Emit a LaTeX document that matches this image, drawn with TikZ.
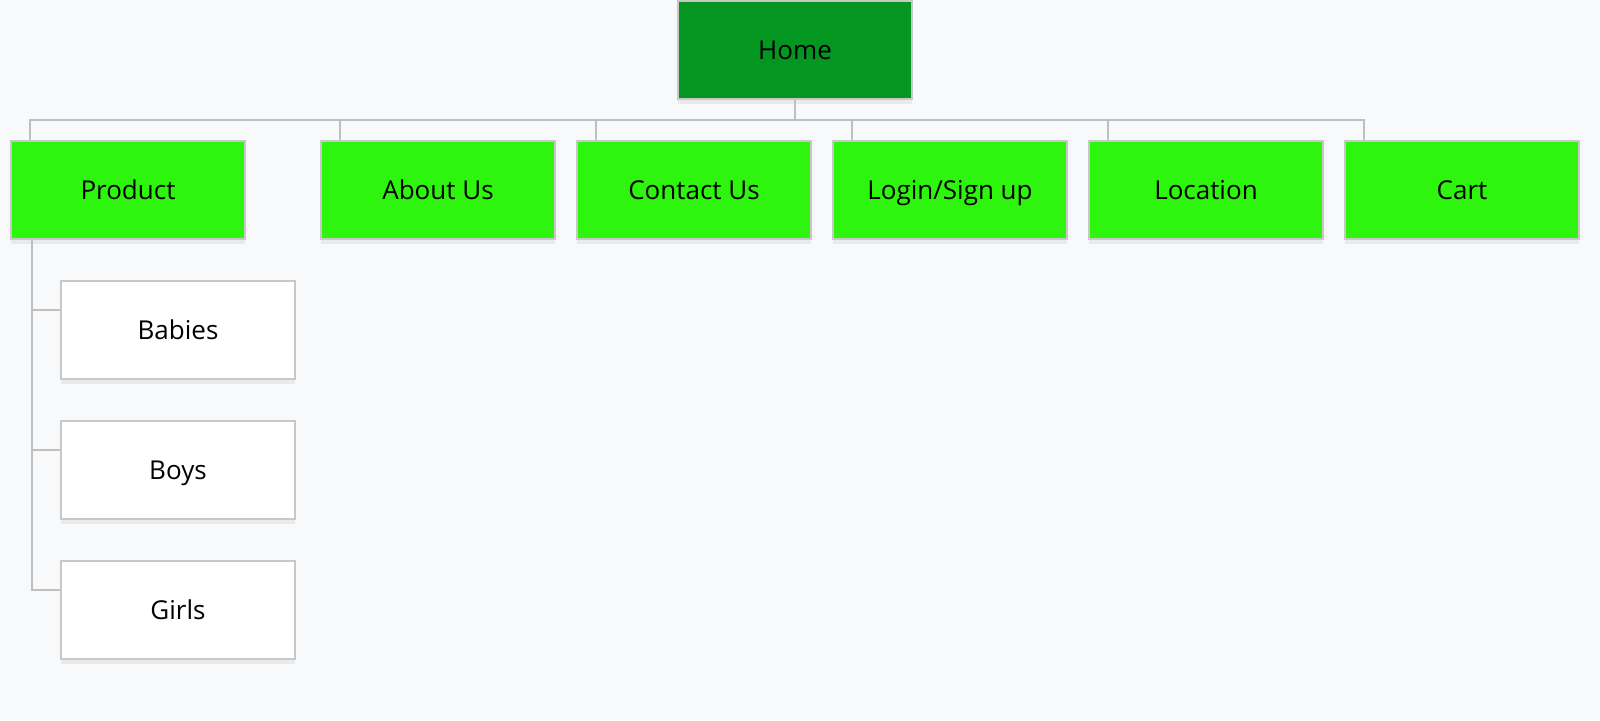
\documentclass[tikz,border=0pt]{standalone}
\usepackage{fontspec}
\setmainfont{Open Sans}
\usetikzlibrary{shadows}
\definecolor{fond}{HTML}{F8F9FB}
\definecolor{bord}{HTML}{C8C8C8}
\definecolor{trait}{HTML}{BFBFBF}
\definecolor{vertfonce}{HTML}{039722}
\definecolor{vertclair}{HTML}{2EF50E}

\begin{document}
\begin{tikzpicture}[x=0.5pt, y=-0.5pt]
\tikzset{boite/.style={draw=bord, line width=1pt, minimum width=117pt, minimum height=49pt, inner sep=0pt,
  font=\fontsize{13}{15}\selectfont, text height=9.3pt, text depth=0pt,
  drop shadow={shadow xshift=0pt, shadow yshift=-2.5pt, fill=black, opacity=0.06}},
  menunoeud/.style={boite, fill=vertclair},
  sousnoeud/.style={boite, fill=white},
  lien/.style={draw=trait, line width=1pt}}
\useasboundingbox[fill=fond] (0,0) rectangle (1600,720);
\node[boite, fill=vertfonce] (Home) at (795,50) {Home};
\node[menunoeud] (Product) at (128,190) {Product};
\node[menunoeud] (About) at (438,190) {About Us};
\node[menunoeud] (Contact) at (694,190) {Contact Us};
\node[menunoeud] (Login) at (950,190) {Login/Sign up};
\node[menunoeud] (Location) at (1206,190) {Location};
\node[menunoeud] (Cart) at (1462,190) {Cart};
\node[sousnoeud] (Babies) at (178,330) {Babies};
\node[sousnoeud] (Boys) at (178,470) {Boys};
\node[sousnoeud] (Girls) at (178,610) {Girls};
\draw[lien] (Home.south) -- ++(0,19);
\draw[lien] ([xshift=10pt]Product.north west) -- ++(0,-20) -| ([xshift=10pt]Cart.north west);
\foreach \n in {About, Contact, Login, Location}
  \draw[lien] ([xshift=10pt]\n.north west) -- ++(0,-20);
\draw[lien] ([xshift=11pt]Product.south west) |- ([yshift=-15pt]Girls.north west);
\foreach \n in {Babies, Boys}
  \draw[lien] ([yshift=-15pt]\n.north west) -- ++(-28,0);
\end{tikzpicture}
\end{document}
